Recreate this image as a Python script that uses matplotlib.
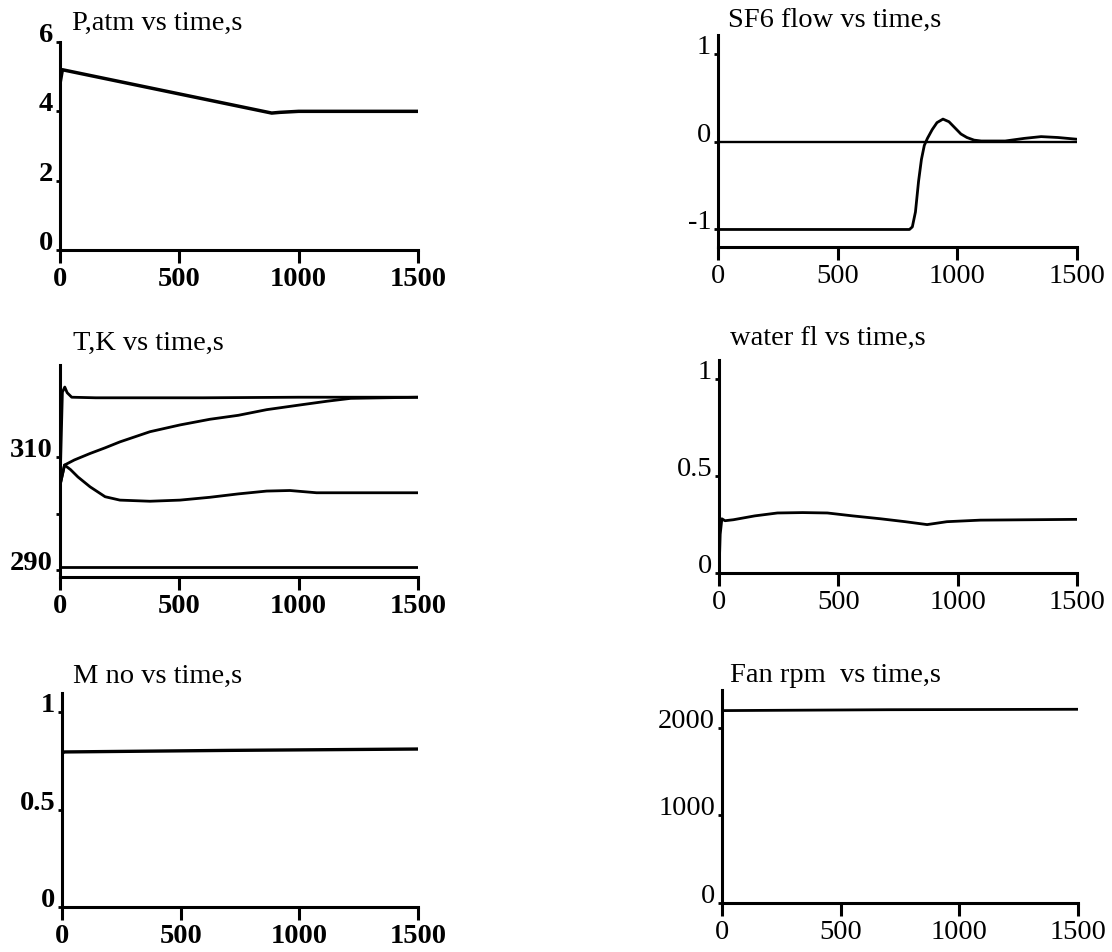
"""
Six-panel transient response: pressure, SF6 flow, temperatures,
water flow, Mach number and fan speed vs time.
"""

import matplotlib
matplotlib.use("Agg")
import matplotlib.pyplot as plt

# ---- data ------------------------------------------------------------------
# pressure, atm
t_p = [0, 10, 887, 920, 1000, 1500]
p_atm = [4.8, 5.2, 3.95, 3.97, 4.0, 4.0]

# SF6 flow
t_sf6 = [0, 400, 800, 812, 825, 838, 850, 862, 875, 895, 915, 940, 965,
         990, 1015, 1040, 1070, 1100, 1200, 1280, 1350, 1420, 1500]
sf6_flow = [-1, -1, -1, -0.97, -0.8, -0.45, -0.2, -0.04, 0.04, 0.14, 0.22,
            0.26, 0.23, 0.16, 0.09, 0.05, 0.02, 0.01, 0.01, 0.04, 0.06,
            0.05, 0.03]
t_sf6_ref = [0, 1500]
sf6_ref = [0, 0]

# temperatures, K
t_T_top = [0, 10, 20, 30, 49, 150, 600, 1000, 1500]
T_top = [305, 321.5, 322.4, 321.4, 320.6, 320.5, 320.5, 320.6, 320.6]
t_T_rise = [0, 19, 60, 126, 189, 251, 314, 377, 503, 628, 747, 866, 1000,
            1120, 1218, 1500]
T_rise = [305, 308.6, 309.5, 310.65, 311.65, 312.7, 313.6, 314.5, 315.7,
          316.7, 317.4, 318.4, 319.2, 319.9, 320.4, 320.6]
t_T_low = [0, 19, 44, 75, 126, 189, 251, 377, 503, 628, 747, 866, 963,
           1075, 1500]
T_low = [305, 308.6, 307.8, 306.5, 304.75, 303.0, 302.4, 302.2, 302.4,
         302.9, 303.5, 304.0, 304.1, 303.7, 303.7]
t_T_bot = [0, 1500]
T_bot = [290.5, 290.5]

# water flow
t_w = [0, 5, 12, 25, 60, 150, 245, 350, 454, 560, 677, 780, 872, 955,
       1095, 1300, 1500]
water_fl = [0, 0.2, 0.28, 0.27, 0.275, 0.295, 0.31, 0.312, 0.31, 0.295,
            0.28, 0.265, 0.25, 0.265, 0.273, 0.275, 0.277]

# Mach number
t_m = [0, 10, 700, 1500]
mach = [0.79, 0.797, 0.805, 0.812]

# fan speed, rpm
t_fan = [0, 700, 1500]
fan_rpm = [2195, 2205, 2210]

x_ticks = [0, 500, 1000, 1500]
x_labels = ["0", "500", "1000", "1500"]

titles = ["P,atm vs time,s", "SF6 flow vs time,s", "T,K vs time,s",
          "water fl vs time,s", "M no vs time,s", "Fan rpm  vs time,s"]

# ---- layout ------------------------------------------------------------------
W, H = 1112, 952
plt.rcParams["font.family"] = ["Liberation Serif", "DejaVu Serif"]

fig = plt.figure(figsize=(W / 100, H / 100), dpi=100)


def box(x0, x1, y0, y1):
    """pixel box (top-left origin) -> figure fraction rect"""
    return [x0 / W, 1 - y1 / H, (x1 - x0) / W, (y1 - y0) / H]


def style(ax, ylim, yticks, ylabels, bold):
    for s in ("top", "right"):
        ax.spines[s].set_visible(False)
    for s in ("left", "bottom"):
        ax.spines[s].set_linewidth(2.2)
    ax.set_xlim(0, 1500)
    ax.set_ylim(*ylim)
    ax.set_xticks(x_ticks, x_labels)
    ax.set_yticks(yticks, ylabels)
    weight = "bold" if bold else "normal"
    ax.tick_params(axis="x", direction="out", length=9, width=2.2, pad=3,
                   labelsize=20.5)
    ax.tick_params(axis="y", direction="out", length=3, width=2, pad=2,
                   labelsize=20.5)
    for lab in ax.get_xticklabels() + ax.get_yticklabels():
        lab.set_fontweight(weight)
    for lab in ax.get_yticklabels():
        lab.set_verticalalignment("baseline")
    ax.patch.set_visible(False)


lw = 2.0

# P, atm
ax1 = fig.add_axes(box(60, 418, 42, 250))
ax1.plot(t_p, p_atm, color="black", lw=lw + 0.5)
style(ax1, (0, 6), [0, 2, 4, 6], ["0", "2", "4", "6"], True)

# SF6 flow
ax2 = fig.add_axes(box(718, 1077, 35, 247))
ax2.plot(t_sf6_ref, sf6_ref, color="black", lw=lw - 0.3)
ax2.plot(t_sf6, sf6_flow, color="black", lw=lw)
style(ax2, (-1.2, 1.22), [-1, 0, 1], ["-1", "0", "1"], False)

# T, K
ax3 = fig.add_axes(box(60, 418, 365, 577))
ax3.plot(t_T_top, T_top, color="black", lw=lw)
ax3.plot(t_T_rise, T_rise, color="black", lw=lw)
ax3.plot(t_T_low, T_low, color="black", lw=lw)
ax3.plot(t_T_bot, T_bot, color="black", lw=lw)
style(ax3, (288.8, 326.3), [290, 300, 310], ["290", "", "310"], True)

# water flow
ax4 = fig.add_axes(box(719, 1077, 360, 573))
ax4.plot(t_w, water_fl, color="black", lw=lw)
style(ax4, (0, 1.1), [0, 0.5, 1], ["0", "0.5", "1"], False)

# Mach number
ax5 = fig.add_axes(box(62, 418, 693, 907))
ax5.plot(t_m, mach, color="black", lw=lw + 0.4)
style(ax5, (0, 1.1), [0, 0.5, 1], ["0", "0.5", "1"], True)

# fan rpm
ax6 = fig.add_axes(box(722, 1078, 690, 903))
ax6.plot(t_fan, fan_rpm, color="black", lw=lw)
style(ax6, (0, 2430), [0, 1000, 2000], ["0", "1000", "2000"], False)

# panel titles, left aligned above each axis
title_pos = [(72, 30), (728, 27), (73, 350), (730, 345), (73, 683), (730, 682)]
for text, (x, y) in zip(titles, title_pos):
    fig.text(x / W, 1 - y / H, text, fontsize=20.5, ha="left", va="baseline")

fig.savefig("out.png", dpi=100)
